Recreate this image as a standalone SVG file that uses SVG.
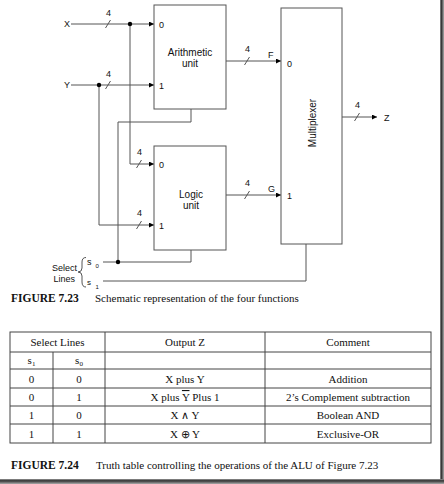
<svg xmlns="http://www.w3.org/2000/svg" width="444" height="484" viewBox="0 0 444 484">
<defs>
<style>
.box{fill:#fff;stroke:#555;stroke-width:1}
.wire{fill:none;stroke:#555;stroke-width:1}
.sl{stroke:#555;stroke-width:1}
.lbl{font-family:"Liberation Sans",Arial,sans-serif;font-size:9px;fill:#111}
.unit{font-family:"Liberation Sans",Arial,sans-serif;font-size:10px;fill:#111;text-anchor:middle}
.cap{font-family:"Liberation Serif","Times New Roman",serif;font-size:11px;fill:#111}
.capb{font-family:"Liberation Serif","Times New Roman",serif;font-size:11.5px;font-weight:bold;fill:#111}
.tb{font-family:"Liberation Serif","Times New Roman",serif;font-size:11px;fill:#111;text-anchor:middle}
.grid{fill:none;stroke:#444;stroke-width:1}
.dot{fill:#000}
</style>
<marker id="arr" markerUnits="userSpaceOnUse" markerWidth="6" markerHeight="6" refX="5" refY="2.5" orient="auto">
<path d="M0,0 L5,2.5 L0,5 z" fill="#000"/>
</marker>
<linearGradient id="shR" x1="0" y1="0" x2="1" y2="0">
<stop offset="0" stop-color="#999"/>
<stop offset="0.35" stop-color="#333"/>
<stop offset="1" stop-color="#aaa"/>
</linearGradient>
<linearGradient id="shB" x1="0" y1="0" x2="0" y2="1">
<stop offset="0" stop-color="#999"/>
<stop offset="0.35" stop-color="#333"/>
<stop offset="1" stop-color="#aaa"/>
</linearGradient>
</defs>
<rect x="0" y="0" width="444" height="484" fill="#fff"/>
<rect x="440" y="0" width="4" height="484" fill="url(#shR)"/>
<rect x="0" y="479" width="444" height="5" fill="url(#shB)"/>

<g id="connectors">
<path class="wire" d="M71,24 H154" marker-end="url(#arr)"/>
<path class="wire" d="M71,85 H154" marker-end="url(#arr)"/>
<path class="wire" d="M130,24 V164 H154" marker-end="url(#arr)"/>
<path class="wire" d="M99,85 V225 H154" marker-end="url(#arr)"/>
<path class="wire" d="M191,109 V122 H118 V262"/>
<path class="wire" d="M191,250 V262 H103"/>
<path class="wire" d="M103,281 H306 V244"/>
<path class="wire" d="M226,61 H281" marker-end="url(#arr)"/>
<path class="wire" d="M226,195 H281" marker-end="url(#arr)"/>
<path class="wire" d="M342,117 H377" marker-end="url(#arr)"/>
<circle class="dot" cx="130" cy="24" r="2.2"/>
<circle class="dot" cx="99" cy="85" r="2.2"/>
<circle class="dot" cx="118" cy="262" r="2.2"/>
<line class="sl" x1="105.5" y1="28" x2="110.5" y2="20"/>
<line class="sl" x1="105.5" y1="89" x2="110.5" y2="81"/>
<line class="sl" x1="136.5" y1="168" x2="141.5" y2="160"/>
<line class="sl" x1="136.5" y1="229" x2="141.5" y2="221"/>
<line class="sl" x1="244.5" y1="65" x2="249.5" y2="57"/>
<line class="sl" x1="244.5" y1="199" x2="249.5" y2="191"/>
<line class="sl" x1="354.5" y1="121" x2="359.5" y2="113"/>
<text class="lbl" x="106" y="16">4</text>
<text class="lbl" x="106" y="77">4</text>
<text class="lbl" x="137" y="155">4</text>
<text class="lbl" x="137" y="216">4</text>
<text class="lbl" x="245" y="52">4</text>
<text class="lbl" x="245" y="186">4</text>
<text class="lbl" x="355" y="108">4</text>
<text class="lbl" x="268" y="58">F</text>
<text class="lbl" x="268" y="192">G</text>
</g>

<g id="input-x"><text class="lbl" x="64" y="27">X</text></g>
<g id="input-y"><text class="lbl" x="64" y="88">Y</text></g>
<g id="output-z"><text class="lbl" x="384" y="121">Z</text></g>

<g id="arithmetic-unit">
<rect class="box" x="154" y="5" width="72" height="104"/>
<text class="unit" x="190" y="55.5">Arithmetic</text>
<text class="unit" x="190" y="66.5">unit</text>
<text class="lbl" x="159" y="27.5">0</text>
<text class="lbl" x="159" y="89">1</text>
</g>

<g id="logic-unit">
<rect class="box" x="154" y="146" width="72" height="104"/>
<text class="unit" x="191" y="197.5">Logic</text>
<text class="unit" x="191" y="208.5">unit</text>
<text class="lbl" x="159" y="167.5">0</text>
<text class="lbl" x="159" y="228.5">1</text>
</g>

<g id="multiplexer">
<rect class="box" x="281" y="8" width="61" height="236"/>
<text class="unit" transform="translate(316,123) rotate(-90)" x="0" y="0">Multiplexer</text>
<text class="lbl" x="287" y="67">0</text>
<text class="lbl" x="287" y="199">1</text>
</g>

<g id="select-lines">
<text class="lbl" x="77" y="271" text-anchor="end">Select</text>
<text class="lbl" x="75" y="282" text-anchor="end">Lines</text>
<path class="wire" d="M86,257.5 Q82,257.5 82,262 L82,268 Q82,272 78,272 Q82,272 82,276 L82,282 Q82,287 86,287"/>
<text class="lbl" x="87" y="265" font-size="8">s</text>
<text class="lbl" x="95.5" y="268" style="font-size:6px">0</text>
<text class="lbl" x="87" y="285" style="font-size:8px">s</text>
<text class="lbl" x="95.5" y="289" style="font-size:6px">1</text>
</g>

<g id="caption-723">
<text class="capb" x="11" y="302">FIGURE 7.23</text>
<text class="cap" x="95" y="302">Schematic representation of the four functions</text>
</g>

<g id="truth-table">
<rect class="grid" x="10" y="332" width="421" height="111"/>
<line class="grid" x1="10" y1="352" x2="431" y2="352"/>
<line class="grid" x1="10" y1="369" x2="431" y2="369"/>
<line class="grid" x1="10" y1="388" x2="431" y2="388"/>
<line class="grid" x1="10" y1="406" x2="431" y2="406"/>
<line class="grid" x1="10" y1="424" x2="431" y2="424"/>
<line class="grid" x1="53" y1="352" x2="53" y2="443"/>
<line class="grid" x1="105" y1="332" x2="105" y2="443"/>
<line class="grid" x1="265" y1="332" x2="265" y2="443"/>
<text class="tb" x="57.5" y="346">Select Lines</text>
<text class="tb" x="185" y="346">Output Z</text>
<text class="tb" x="348" y="346">Comment</text>
<text class="tb" x="31.5" y="363.5">s<tspan dy="2" style="font-size:7px">1</tspan></text>
<text class="tb" x="79" y="363.5">s<tspan dy="2" style="font-size:7px">0</tspan></text>
<text class="tb" x="31.5" y="382.5">0</text>
<text class="tb" x="79" y="382.5">0</text>
<text class="tb" x="185" y="382.5">X plus Y</text>
<text class="tb" x="348" y="382.5">Addition</text>
<text class="tb" x="31.5" y="401">0</text>
<text class="tb" x="79" y="401">1</text>
<text class="tb" x="185" y="401">X plus <tspan text-decoration="overline" style="text-decoration:overline">Y</tspan> Plus 1</text>
<text class="tb" x="348" y="401">2’s Complement subtraction</text>
<text class="tb" x="31.5" y="419">1</text>
<text class="tb" x="79" y="419">0</text>
<text class="tb" x="185" y="419">X ∧ Y</text>
<text class="tb" x="348" y="419">Boolean AND</text>
<text class="tb" x="31.5" y="437.5">1</text>
<text class="tb" x="79" y="437.5">1</text>
<text class="tb" x="185" y="437.5">X ⊕ Y</text>
<text class="tb" x="348" y="437.5">Exclusive-OR</text>
</g>

<g id="caption-724">
<text class="capb" x="11" y="469">FIGURE 7.24</text>
<text class="cap" x="96" y="469">Truth table controlling the operations of the ALU of Figure 7.23</text>
</g>
</svg>
